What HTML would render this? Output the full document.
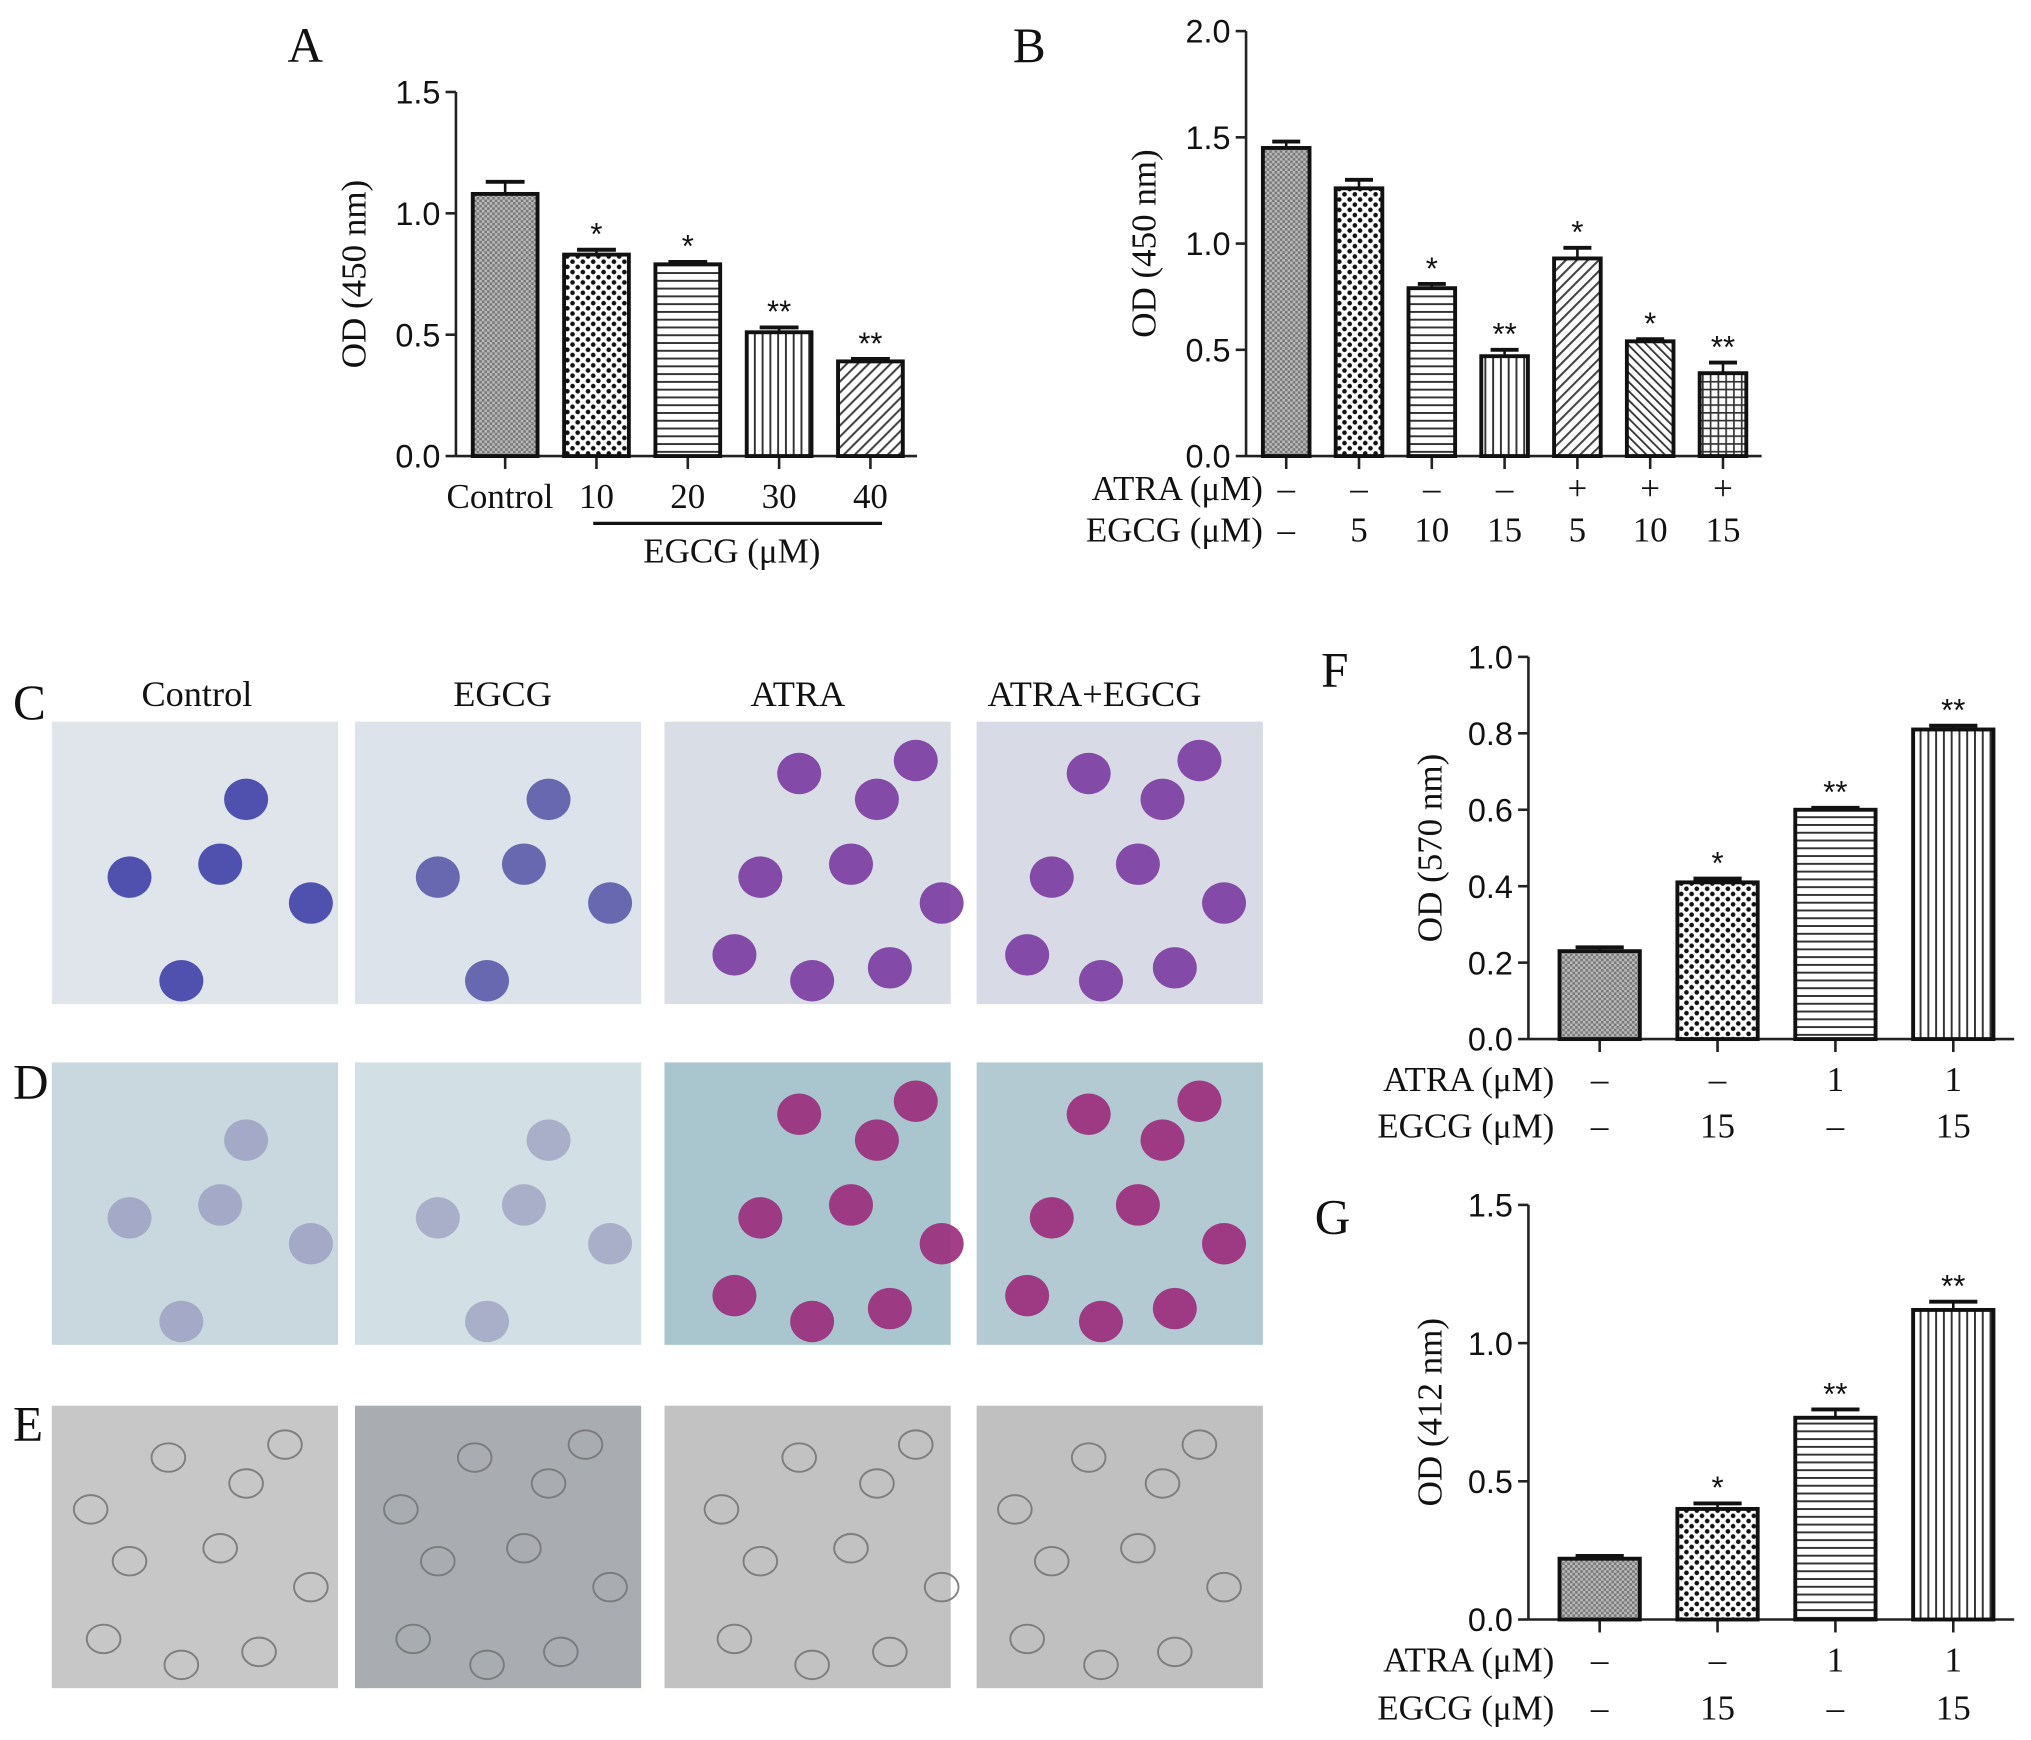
<!DOCTYPE html>
<html><head><meta charset="utf-8"><style>
html,body{margin:0;padding:0;background:#fff;}
svg{display:block;}
text{font-family:"Liberation Serif",serif;fill:#111;}
.ax{font-family:"Liberation Sans",sans-serif;}
</style></head><body>
<svg id="fig" width="2031" height="1740" viewBox="0 0 1568 1343" preserveAspectRatio="none" xmlns="http://www.w3.org/2000/svg">
<defs>
<pattern id="p0" width="4" height="4" patternUnits="userSpaceOnUse"><rect width="4" height="4" fill="#bbb"/><rect width="2" height="2" fill="#777"/><rect x="2" y="2" width="2" height="2" fill="#777"/></pattern>
<pattern id="p1" width="8" height="8" patternUnits="userSpaceOnUse"><rect width="8" height="8" fill="#fff"/><circle cx="2" cy="2" r="1.8" fill="#111"/><circle cx="6" cy="6" r="1.8" fill="#111"/></pattern>
<pattern id="p2" width="6" height="6" patternUnits="userSpaceOnUse"><rect width="6" height="6" fill="#fff"/><rect y="0" width="6" height="1.5" fill="#333"/></pattern>
<pattern id="p3" width="6" height="6" patternUnits="userSpaceOnUse"><rect width="6" height="6" fill="#fff"/><rect x="0" width="1.5" height="6" fill="#333"/></pattern>
<pattern id="p4" width="6" height="6" patternUnits="userSpaceOnUse" patternTransform="rotate(45)"><rect width="6" height="6" fill="#fff"/><rect width="1.6" height="6" fill="#444"/></pattern>
<pattern id="p5" width="5" height="5" patternUnits="userSpaceOnUse" patternTransform="rotate(-45)"><rect width="5" height="5" fill="#fff"/><rect width="1.4" height="5" fill="#333"/></pattern>
<pattern id="p6" width="6" height="6" patternUnits="userSpaceOnUse"><rect width="6" height="6" fill="#fff"/><rect width="6" height="1.3" fill="#333"/><rect width="1.3" height="6" fill="#333"/></pattern>
</defs>
<g id="root"></g>
</svg>
<script>
// Panel A data
const aCats = ["Control","10","20","30","40"];
const aVals = [1.08,0.83,0.79,0.51,0.39];
const aErr = [0.05,0.02,0.01,0.02,0.01];
const aSig = ["","*","*","**","**"];
const aTicks = [0,0.5,1.0,1.5];
// Panel B data
const bAtra = ["–","–","–","–","+","+","+"];
const bEgcg = ["–","5","10","15","5","10","15"];
const bVals = [1.45,1.26,0.79,0.47,0.93,0.54,0.39];
const bErr = [0.03,0.04,0.02,0.03,0.05,0.01,0.05];
const bSig = ["","","*","**","*","*","**"];
const bTicks = [0,0.5,1.0,1.5,2.0];
// Panel F data
const fAtra = ["–","–","1","1"];
const fEgcg = ["–","15","–","15"];
const fVals = [0.23,0.41,0.60,0.81];
const fErr = [0.01,0.01,0.005,0.01];
const fSig = ["","*","**","**"];
const fTicks = [0,0.2,0.4,0.6,0.8,1.0];
// Panel G data
const gVals = [0.22,0.40,0.73,1.12];
const gErr = [0.01,0.02,0.03,0.03];
const gSig = ["","*","**","**"];
const gTicks = [0,0.5,1.0,1.5];

const NS="http://www.w3.org/2000/svg";
const root=document.getElementById('root');
function el(tag,attrs,parent,txt){const e=document.createElementNS(NS,tag);for(const k in attrs)e.setAttribute(k,attrs[k]);if(txt!==undefined)e.textContent=txt;(parent||root).appendChild(e);return e;}

function panel(cfg){
  const g=el('g',{});
  
  
  const y=v=>cfg.y0-(v/cfg.max)*(cfg.y0-cfg.yTop);
  const x=i=>cfg.x0+cfg.first+i*cfg.step;
  const ya=el('line',{x1:cfg.ax,y1:cfg.yTop,x2:cfg.ax,y2:cfg.y0,stroke:'#222','stroke-width':2},g);
  
  const xa=el('line',{x1:cfg.ax,y1:cfg.y0,x2:cfg.xEnd,y2:cfg.y0,stroke:'#222','stroke-width':2},g);
  
  cfg.ticks.forEach(t=>{
    el('line',{x1:cfg.ax-8,y1:y(t),x2:cfg.ax,y2:y(t),stroke:'#222','stroke-width':2},g);
    const tl=el('text',{x:cfg.ax-12,y:y(t)+9,'text-anchor':'end','font-size':25,class:'ax'},g,t.toFixed(1));
    
  });
  cfg.vals.forEach((v,i)=>{
    const cx=x(i);
    el('line',{x1:cx,y1:cfg.y0,x2:cx,y2:cfg.y0+10,stroke:'#222','stroke-width':2},g);
    const top=y(v+cfg.err[i]);
    el('line',{x1:cx,y1:y(v),x2:cx,y2:top,stroke:'#111','stroke-width':2},g);
    el('line',{x1:cx-cfg.bw*0.3,y1:top,x2:cx+cfg.bw*0.3,y2:top,stroke:'#111','stroke-width':3},g);
    const b=el('rect',{x:cx-cfg.bw/2,y:y(v),width:cfg.bw,height:cfg.y0-y(v),fill:'url(#p'+cfg.pats[i]+')',stroke:'#111','stroke-width':3},g);
    
    if(cfg.sig[i]){const s=el('text',{x:cx,y:top-4,'text-anchor':'middle','font-size':24,fill:'#333',class:'ax'},g,cfg.sig[i]);
      }
  });
  const yt=el('text',{transform:`translate(${cfg.ylx},${(cfg.y0+cfg.yTop)/2}) rotate(-90)`,'text-anchor':'middle','font-size':27},g,cfg.ylab);
  
  if(cfg.rows){cfg.rows.forEach((r,ri)=>{
    const ry=cfg.rowY[ri];
    const lb=el('text',{x:cfg.rowLx,y:ry,'text-anchor':'end','font-size':27},g,r.label);
    
    r.vals.forEach((t,i)=>{const tt=el('text',{x:x(i),y:ry,'text-anchor':'middle','font-size':27},g,t);
      });
  });}
  return {g,x,y};
}

const A=panel({name:'panel-a-chart',ax:352,x0:352,first:38,step:70.5,bw:50,y0:352,yTop:71,max:1.5,xEnd:708,ticks:aTicks,vals:aVals,err:aErr,sig:aSig,pats:[0,1,2,3,4],ylx:282,ylab:'OD (450 nm)'});
aCats.forEach((c,i)=>{const t=el('text',{x:A.x(i)+(i==0?-4:0),y:392,'text-anchor':'middle','font-size':27},A.g,c);
  });
el('line',{x1:458,y1:404,x2:681,y2:404,stroke:'#111','stroke-width':2.5},A.g);
{const t=el('text',{x:565,y:434,'text-anchor':'middle','font-size':27},A.g,'EGCG (μM)');}

panel({name:'panel-b-chart',ax:962,x0:962,first:31,step:56.2,bw:36,y0:352,yTop:24,max:2.0,xEnd:1360,ticks:bTicks,vals:bVals,err:bErr,sig:bSig,pats:[0,1,2,3,4,5,6],ylx:892,ylab:'OD (450 nm)',
  rows:[{label:'ATRA (μM)',vals:bAtra},{label:'EGCG (μM)',vals:bEgcg}],rowY:[386,418],rowLx:975});
panel({name:'panel-f-chart',ax:1180,x0:1180,first:55,step:91,bw:62,y0:802,yTop:507,max:1.0,xEnd:1555,ticks:fTicks,vals:fVals,err:fErr,sig:fSig,pats:[0,1,2,3],ylx:1113,ylab:'OD (570 nm)',
  rows:[{label:'ATRA (μM)',vals:fAtra},{label:'EGCG (μM)',vals:fEgcg}],rowY:[842,878],rowLx:1200});
panel({name:'panel-g-chart',ax:1180,x0:1180,first:55,step:91,bw:62,y0:1250,yTop:930,max:1.5,xEnd:1555,ticks:gTicks,vals:gVals,err:gErr,sig:gSig,pats:[0,1,2,3],ylx:1113,ylab:'OD (412 nm)',
  rows:[{label:'ATRA (μM)',vals:fAtra},{label:'EGCG (μM)',vals:fEgcg}],rowY:[1290,1327],rowLx:1200});

// panel letters
[['A',222,48],['B',782,48],['C',10,555],['D',10,848],['E',10,1112],['F',1020,530],['G',1015,952]].forEach(l=>{
  const t=el('text',{x:l[1],y:l[2],'font-size':38},root,l[0]);
  
  
});
// column titles
[['Control',152],['EGCG',388],['ATRA',616],['ATRA+EGCG',845]].forEach(c=>{
  const t=el('text',{x:c[1],y:545,'text-anchor':'middle','font-size':28},root,c[0]);
  
  
});
// micrographs
const colX=[40,274,513,754], rowY=[557,820,1085];
const bgs=[['#dfe5ea','#dde3ea','#d8dde6','#d8dbe6'],['#c9d8de','#d2dfe4','#a9c6cf','#b3cad2'],['#c7c7c7','#a9adb2','#c2c2c2','#c0c0c0']];
const cellCol=[['#4040a8','#5a5aa8','#7a3aa0','#7a3aa0'],['#8a8ab8','#9090b8','#9a2a7a','#9a2a7a'],['#999','#bbb','#999','#999']];
const cellPos=[[60,120],[150,60],[100,200],[200,140],[130,110],[40,180],[180,30],[90,40],[160,190],[30,80]];
rowY.forEach((ry,r)=>colX.forEach((cx,c)=>{
  const gg=el('g',{});
  
  
  el('rect',{x:cx,y:ry,width:221,height:218,fill:bgs[r][c]},gg);
  const n=r==2?10:(c<2?5:9);
  for(let k=0;k<n;k++){const p=cellPos[k];
    el('ellipse',{cx:cx+p[0]*(c%2?0.95:1)+ (c*7)%20,cy:ry+p[1],rx:r==2?13:17,ry:r==2?11:16,fill:r==2?'none':cellCol[r][c],stroke:r==2?'#777':'none','stroke-width':1.5,opacity:r==1&&c<2?0.6:0.9},gg);}
}));
</script>
</body></html>
